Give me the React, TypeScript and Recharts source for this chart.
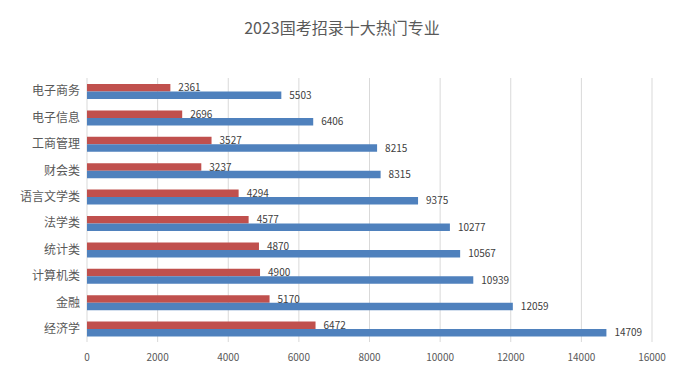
import { BarChart, Bar, XAxis, YAxis, CartesianGrid, LabelList } from "recharts";

const TITLE = "2023国考招录十大热门专业";
const majors = ["电子商务", "电子信息", "工商管理", "财会类", "语言文学类", "法学类", "统计类", "计算机类", "金融", "经济学"];
const redValues = [2361, 2696, 3527, 3237, 4294, 4577, 4870, 4900, 5170, 6472];
const blueValues = [5503, 6406, 8215, 8315, 9375, 10277, 10567, 10939, 12059, 14709];
const xTicks = [0, 2000, 4000, 6000, 8000, 10000, 12000, 14000, 16000];

const FONT = '"Noto Sans CJK SC", "Noto Sans", sans-serif';

export default function App() {
  const data = majors.map((name, i) => ({ name, red: redValues[i], blue: blueValues[i] }));

  return (
    <div style={{ position: "absolute", left: 0, top: 0, width: 684, height: 383, background: "#fff", fontFamily: FONT }}>
      <div
        style={{
          position: "absolute",
          top: 15,
          left: 0,
          width: 684,
          textAlign: "center",
          fontSize: 16,
          color: "#595959",
        }}
      >
        {TITLE}
      </div>
      <BarChart
        width={684}
        height={383}
        data={data}
        layout="vertical"
        margin={{ top: 78, right: 32, left: 7, bottom: 16 }}
        barGap={0}
      >
        <CartesianGrid horizontal={false} stroke="#d9d9d9" />
        <XAxis
          type="number"
          domain={[0, 16000]}
          ticks={xTicks}
          height={25}
          axisLine={false}
          tickLine={false}
          tickSize={0}
          tickMargin={12}
          tick={{ fontSize: 10, fill: "#595959", fontFamily: FONT }}
        />
        <YAxis
          type="category"
          dataKey="name"
          width={80}
          axisLine={false}
          tickLine={false}
          tickSize={0}
          tickMargin={7}
          tick={{ fontSize: 12, fill: "#595959", fontFamily: FONT }}
        />
        <Bar dataKey="red" fill="#C0504D" barSize={7.5} isAnimationActive={false}>
          <LabelList dataKey="red" position="right" offset={8} fill="#404040" fontSize={10} fontFamily={FONT} />
        </Bar>
        <Bar dataKey="blue" fill="#4F81BD" barSize={7.5} isAnimationActive={false}>
          <LabelList dataKey="blue" position="right" offset={8} fill="#404040" fontSize={10} fontFamily={FONT} />
        </Bar>
      </BarChart>
    </div>
  );
}
